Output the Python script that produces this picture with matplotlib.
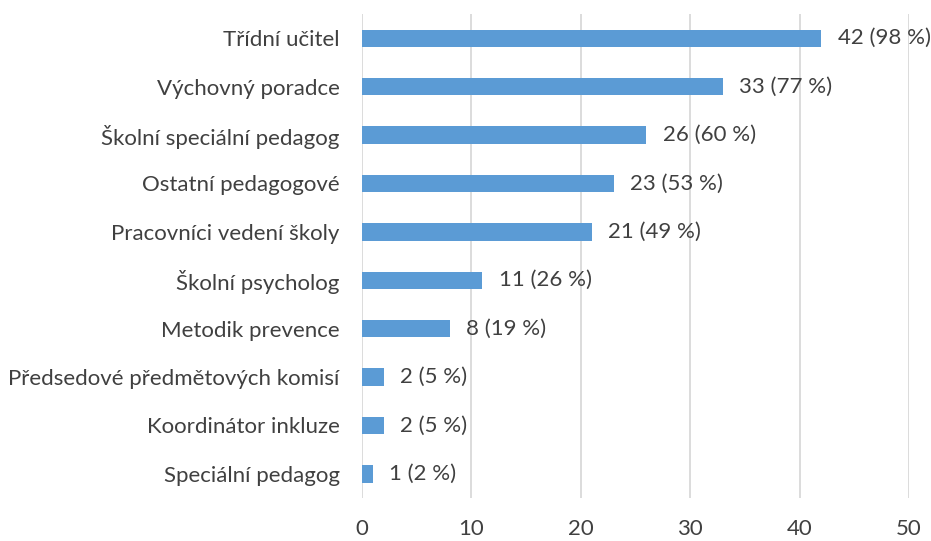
import matplotlib
matplotlib.use("Agg")
import matplotlib.pyplot as plt

categories = ["Třídní učitel", "Výchovný poradce", "Školní speciální pedagog",
              "Ostatní pedagogové", "Pracovníci vedení školy", "Školní psycholog",
              "Metodik prevence", "Předsedové předmětových komisí",
              "Koordinátor inkluze", "Speciální pedagog"]
counts = [42, 33, 26, 23, 21, 11, 8, 2, 2, 1]
percents = [98, 77, 60, 53, 49, 26, 19, 5, 5, 2]

plt.rcParams['font.family'] = ['Lato', 'DejaVu Sans']
text_color = "#404040"

fig = plt.figure(figsize=(9.31, 5.41), dpi=100)
ax = fig.add_axes([0.3888, 0.0795, 0.5876, 0.8945])

y = range(len(categories))
ax.barh(y, counts, height=0.36, color="#5B9BD5", zorder=2)
ax.set_yticks(list(y))
ax.set_yticklabels(categories, fontsize=16, color=text_color)
ax.invert_yaxis()
ax.set_ylim(len(categories) - 0.5, -0.5)

ax.set_xlim(0, 50)
ax.set_xticks(range(0, 51, 10))
ax.tick_params(axis="x", labelsize=16, labelcolor=text_color, length=0, pad=15)
ax.tick_params(axis="y", length=0, pad=16)
ax.grid(axis="x", color="#D9D9D9", linewidth=1.3, zorder=0)

for s in ax.spines.values():
    s.set_visible(False)

# value labels
for i, (c, p) in enumerate(zip(counts, percents)):
    ax.text(c + 1.5, i, f"{c} ({p} %)", va="center", ha="left",
            fontsize=16, color=text_color)

fig.savefig("out.png", dpi=100)
